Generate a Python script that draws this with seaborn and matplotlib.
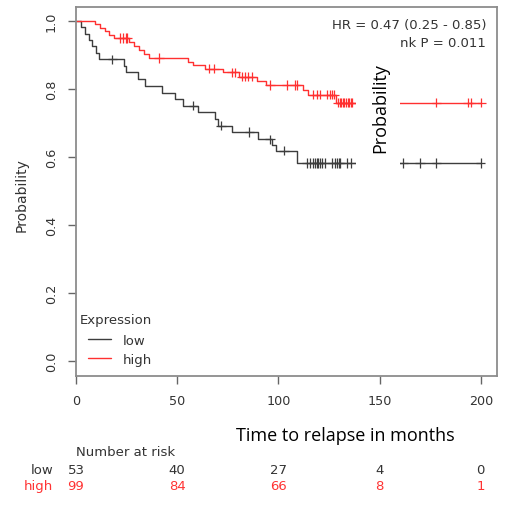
import numpy as np
import pandas as pd
import matplotlib
matplotlib.use("Agg")
import matplotlib.pyplot as plt
import matplotlib.transforms as mtransforms
from matplotlib.patches import Rectangle
import seaborn as sns

# Kaplan-Meier steps (months, survival after the drop)
low_times = [0, 2.6, 4.4, 6.4, 8.1, 9.7, 11.4, 23.7, 24.8, 30.8, 34.0, 42.3, 48.9,
             53.0, 60.4, 68.6, 70.3, 76.9, 90.0, 97.0, 98.8, 109.0]
low_surv = [1.0, 0.981, 0.962, 0.943, 0.925, 0.906, 0.887, 0.868, 0.849, 0.829, 0.808,
            0.789, 0.770, 0.751, 0.731, 0.711, 0.692, 0.673, 0.652, 0.636, 0.619, 0.582]
low_censor = [17.9, 57.9, 71.6, 85.6, 95.8, 102.7, 113.9, 115.6, 117.2, 118.0, 118.9,
              119.7, 120.5, 121.3, 123.0, 126.3, 128.0, 128.8, 129.7, 130.5, 133.8,
              136.1, 161.6, 169.9, 178.1, 200.0]

high_times = [0, 9.4, 11.8, 14.2, 16.5, 18.8, 26.2, 28.6, 31.0, 33.4, 36.0, 55.5, 58.0,
              63.7, 72.7, 80.5, 89.2, 94.0, 112.3, 114.6, 128.7]
high_surv = [1.0, 0.990, 0.980, 0.970, 0.960, 0.950, 0.938, 0.926, 0.914, 0.902, 0.891,
             0.880, 0.870, 0.860, 0.849, 0.836, 0.823, 0.812, 0.797, 0.783, 0.760]
high_censor = [21.6, 23.0, 24.5, 25.3, 41.0, 65.8, 68.3, 76.9, 78.5, 81.8, 83.5, 85.1,
               86.8, 95.8, 104.0, 108.1, 109.0, 117.2, 118.9, 120.5, 123.8, 125.4,
               126.3, 127.5, 129.5, 130.3, 131.0, 131.8, 132.6, 133.4, 134.2, 135.0,
               135.8, 136.6, 178.0, 193.7, 195.4, 200.3]

groups = ["low", "high"]
risk_times = [0, 50, 100, 150, 200]
low_risk = [53, 40, 27, 4, 0]
high_risk = [99, 84, 66, 8, 1]

hr_text = "HR = 0.47 (0.25 - 0.85)"
p_text = "logrank P = 0.011"

colors = {"low": "#3d3d3d", "high": "#ff3030"}
text_grey = "#333333"


def km_frame(name, times, surv, censor):
    # extend the step line to the last follow-up time
    end = max(censor)
    t = list(times) + [end]
    s = list(surv) + [surv[-1]]
    steps = pd.DataFrame({"time": t, "surv": s, "group": name})
    idx = np.searchsorted(np.array(times), np.array(censor), side="right") - 1
    cens = pd.DataFrame({"time": censor, "surv": np.array(surv)[idx], "group": name})
    return steps, cens


low_steps, low_cens = km_frame("low", low_times, low_surv, low_censor)
high_steps, high_cens = km_frame("high", high_times, high_surv, high_censor)
steps = pd.concat([low_steps, high_steps], ignore_index=True)
cens = pd.concat([low_cens, high_cens], ignore_index=True)

sns.set_style("white")
plt.rcParams["font.family"] = ["DejaVu Sans"]

W, H = 511, 510
fig = plt.figure(figsize=(W / 100, H / 100), dpi=100)
ax = fig.add_axes([76 / W, 1 - 377 / H, (497 - 76) / W, (377 - 8) / H])

sns.lineplot(data=steps, x="time", y="surv", hue="group", hue_order=groups,
             palette=colors, drawstyle="steps-post", estimator=None, sort=False,
             linewidth=1.0, ax=ax)
sns.scatterplot(data=cens, x="time", y="surv", hue="group", hue_order=groups,
                palette=colors, marker="+", s=45, linewidth=0.9, legend=False, ax=ax)

ax.set_xlim(0, 208)
ax.set_ylim(-0.044, 1.041)
ax.set_xticks(risk_times)
ax.set_yticks([0.0, 0.2, 0.4, 0.6, 0.8, 1.0])
ax.set_yticklabels(["0.0", "0.2", "0.4", "0.6", "0.8", "1.0"])
ax.set_xlabel("")
ax.set_ylabel("")
for sp in ax.spines.values():
    sp.set_color("#8c8c8c")
    sp.set_linewidth(1.3)
ax.tick_params(axis="both", direction="out", length=6, width=1, color="#666666",
               labelsize=9.2, labelcolor=text_grey, pad=7)
ax.tick_params(axis="x", bottom=True)
ax.tick_params(axis="y", left=True, labelrotation=90)
for lab in ax.get_yticklabels():
    lab.set_va("center")

# legend: title as its own text, entries indented a little as in R
fig.text(80 / W, 1 - 321 / H, "Expression", ha="left", va="center", fontsize=9.5,
         color=text_grey)
leg = ax.legend(loc="upper left", bbox_to_anchor=(88 / W, 1 - 335 / H),
                bbox_transform=fig.transFigure, frameon=False, fontsize=9.5,
                borderpad=0, borderaxespad=0, handlelength=1.75, handletextpad=0.85,
                labelspacing=0.45)
for t in leg.get_texts():
    t.set_color(text_grey)

fig.text(22 / W, 1 - 195 / H, "Probability", rotation=90, ha="center", va="center",
         fontsize=10, color=text_grey)
fig.text(486 / W, 1 - 25 / H, hr_text, ha="right", va="center", fontsize=9.5,
         color=text_grey)
fig.text(486 / W, 1 - 43 / H, p_text, ha="right", va="center", fontsize=9.5,
         color=text_grey)

# number at risk table under the axis
trans = mtransforms.blended_transform_factory(ax.transData, fig.transFigure)
fig.text(76 / W, 1 - 453 / H, "Number at risk", ha="left", va="center",
         fontsize=9.5, color=text_grey)
for name, counts, y in [("low", low_risk, 470.5), ("high", high_risk, 486.5)]:
    c = text_grey if name == "low" else "#ff3333"
    fig.text(53 / W, 1 - y / H, name, ha="right", va="center", fontsize=9.5, color=c)
    for t, n in zip(risk_times, counts):
        ax.text(t, 1 - y / H, str(n), transform=trans, ha="center", va="center",
                fontsize=9.5, color=c, clip_on=False)

# pasted-over label box from the reference
fig.add_artist(Rectangle((356 / W, 1 - 172 / H), 44 / W, (172 - 38) / H,
                         transform=fig.transFigure, facecolor="white",
                         edgecolor="none", zorder=10))
fig.text(380 / W, 1 - 108.5 / H, "Probability", rotation=90, ha="center",
         va="center", fontsize=13, color="black", family="Open Sans", zorder=11)
fig.text(345.5 / W, 1 - 436.5 / H, "Time to relapse in months", ha="center",
         va="center", fontsize=13, color="black", family="Open Sans", zorder=11)

fig.savefig("out.png", dpi=100)
